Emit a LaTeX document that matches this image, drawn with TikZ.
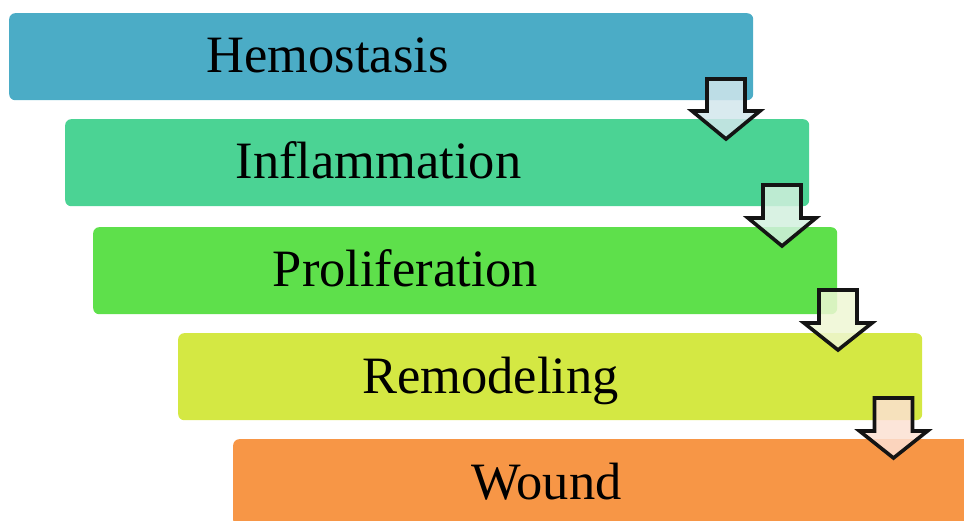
\documentclass[tikz,border=0pt]{standalone}
\usepackage{fontspec}
\setmainfont{Liberation Serif}
\definecolor{cA}{HTML}{4BACC6}
\definecolor{cB}{HTML}{4BD394}
\definecolor{cC}{HTML}{5EE04B}
\definecolor{cD}{HTML}{D4E843}
\definecolor{cE}{HTML}{F79646}
\definecolor{aA}{HTML}{D2E6EC}
\definecolor{aB}{HTML}{D2F0DE}
\definecolor{aC}{HTML}{EEF7D4}
\definecolor{aD}{HTML}{FCE0D2}
\tikzset{
  stagebox/.style={draw=none, fill=#1, rounded corners=6pt, anchor=north west,
    minimum width=744pt, minimum height=87pt, inner sep=0pt},
  stagetext/.style={anchor=base, font=\fontsize{52.5pt}{60pt}\selectfont, inner sep=0pt},
  downarrow/.style={draw=black!92, line width=3.6pt, line join=miter, fill=#1, fill opacity=0.85}
}
\begin{document}
\begin{tikzpicture}[x=1pt,y=-1pt]
\useasboundingbox (0,0) rectangle (964,521);
\clip (0,0) rectangle (964,521);
\node[stagebox=cA] (b1) at (9,13) {};
\node[stagebox=cB] (b2) at (65,119) {};
\node[stagebox=cC] (b3) at (93,227) {};
\node[stagebox=cD] (b4) at (178,333) {};
\node[stagebox=cE] (b5) at (233,439) {};
\node[stagetext] (t1) at (327.5,73) {Hemostasis};
\node[stagetext] (t2) at (378.5,179) {Inflammation};
\node[stagetext] (t3) at (405.5,287) {Proliferation};
\node[stagetext] (t4) at (490.5,393) {Remodeling};
\node[stagetext] (t5) at (546.5,499) {Wound};
% arrows: center x, shaft top, wing y, tip y
\foreach \cx/\ty/\wy/\py/\col in {726/79/111/139/aA, 782/185/218/246/aB, 838/290/323/350/aC, 893.5/398/431/458/aD}{
  \draw[downarrow=\col] (\cx-19,\ty) -- (\cx+19,\ty) -- (\cx+19,\wy) -- (\cx+34,\wy)
     -- (\cx,\py) -- (\cx-34,\wy) -- (\cx-19,\wy) -- cycle;
}
\end{tikzpicture}
\end{document}
